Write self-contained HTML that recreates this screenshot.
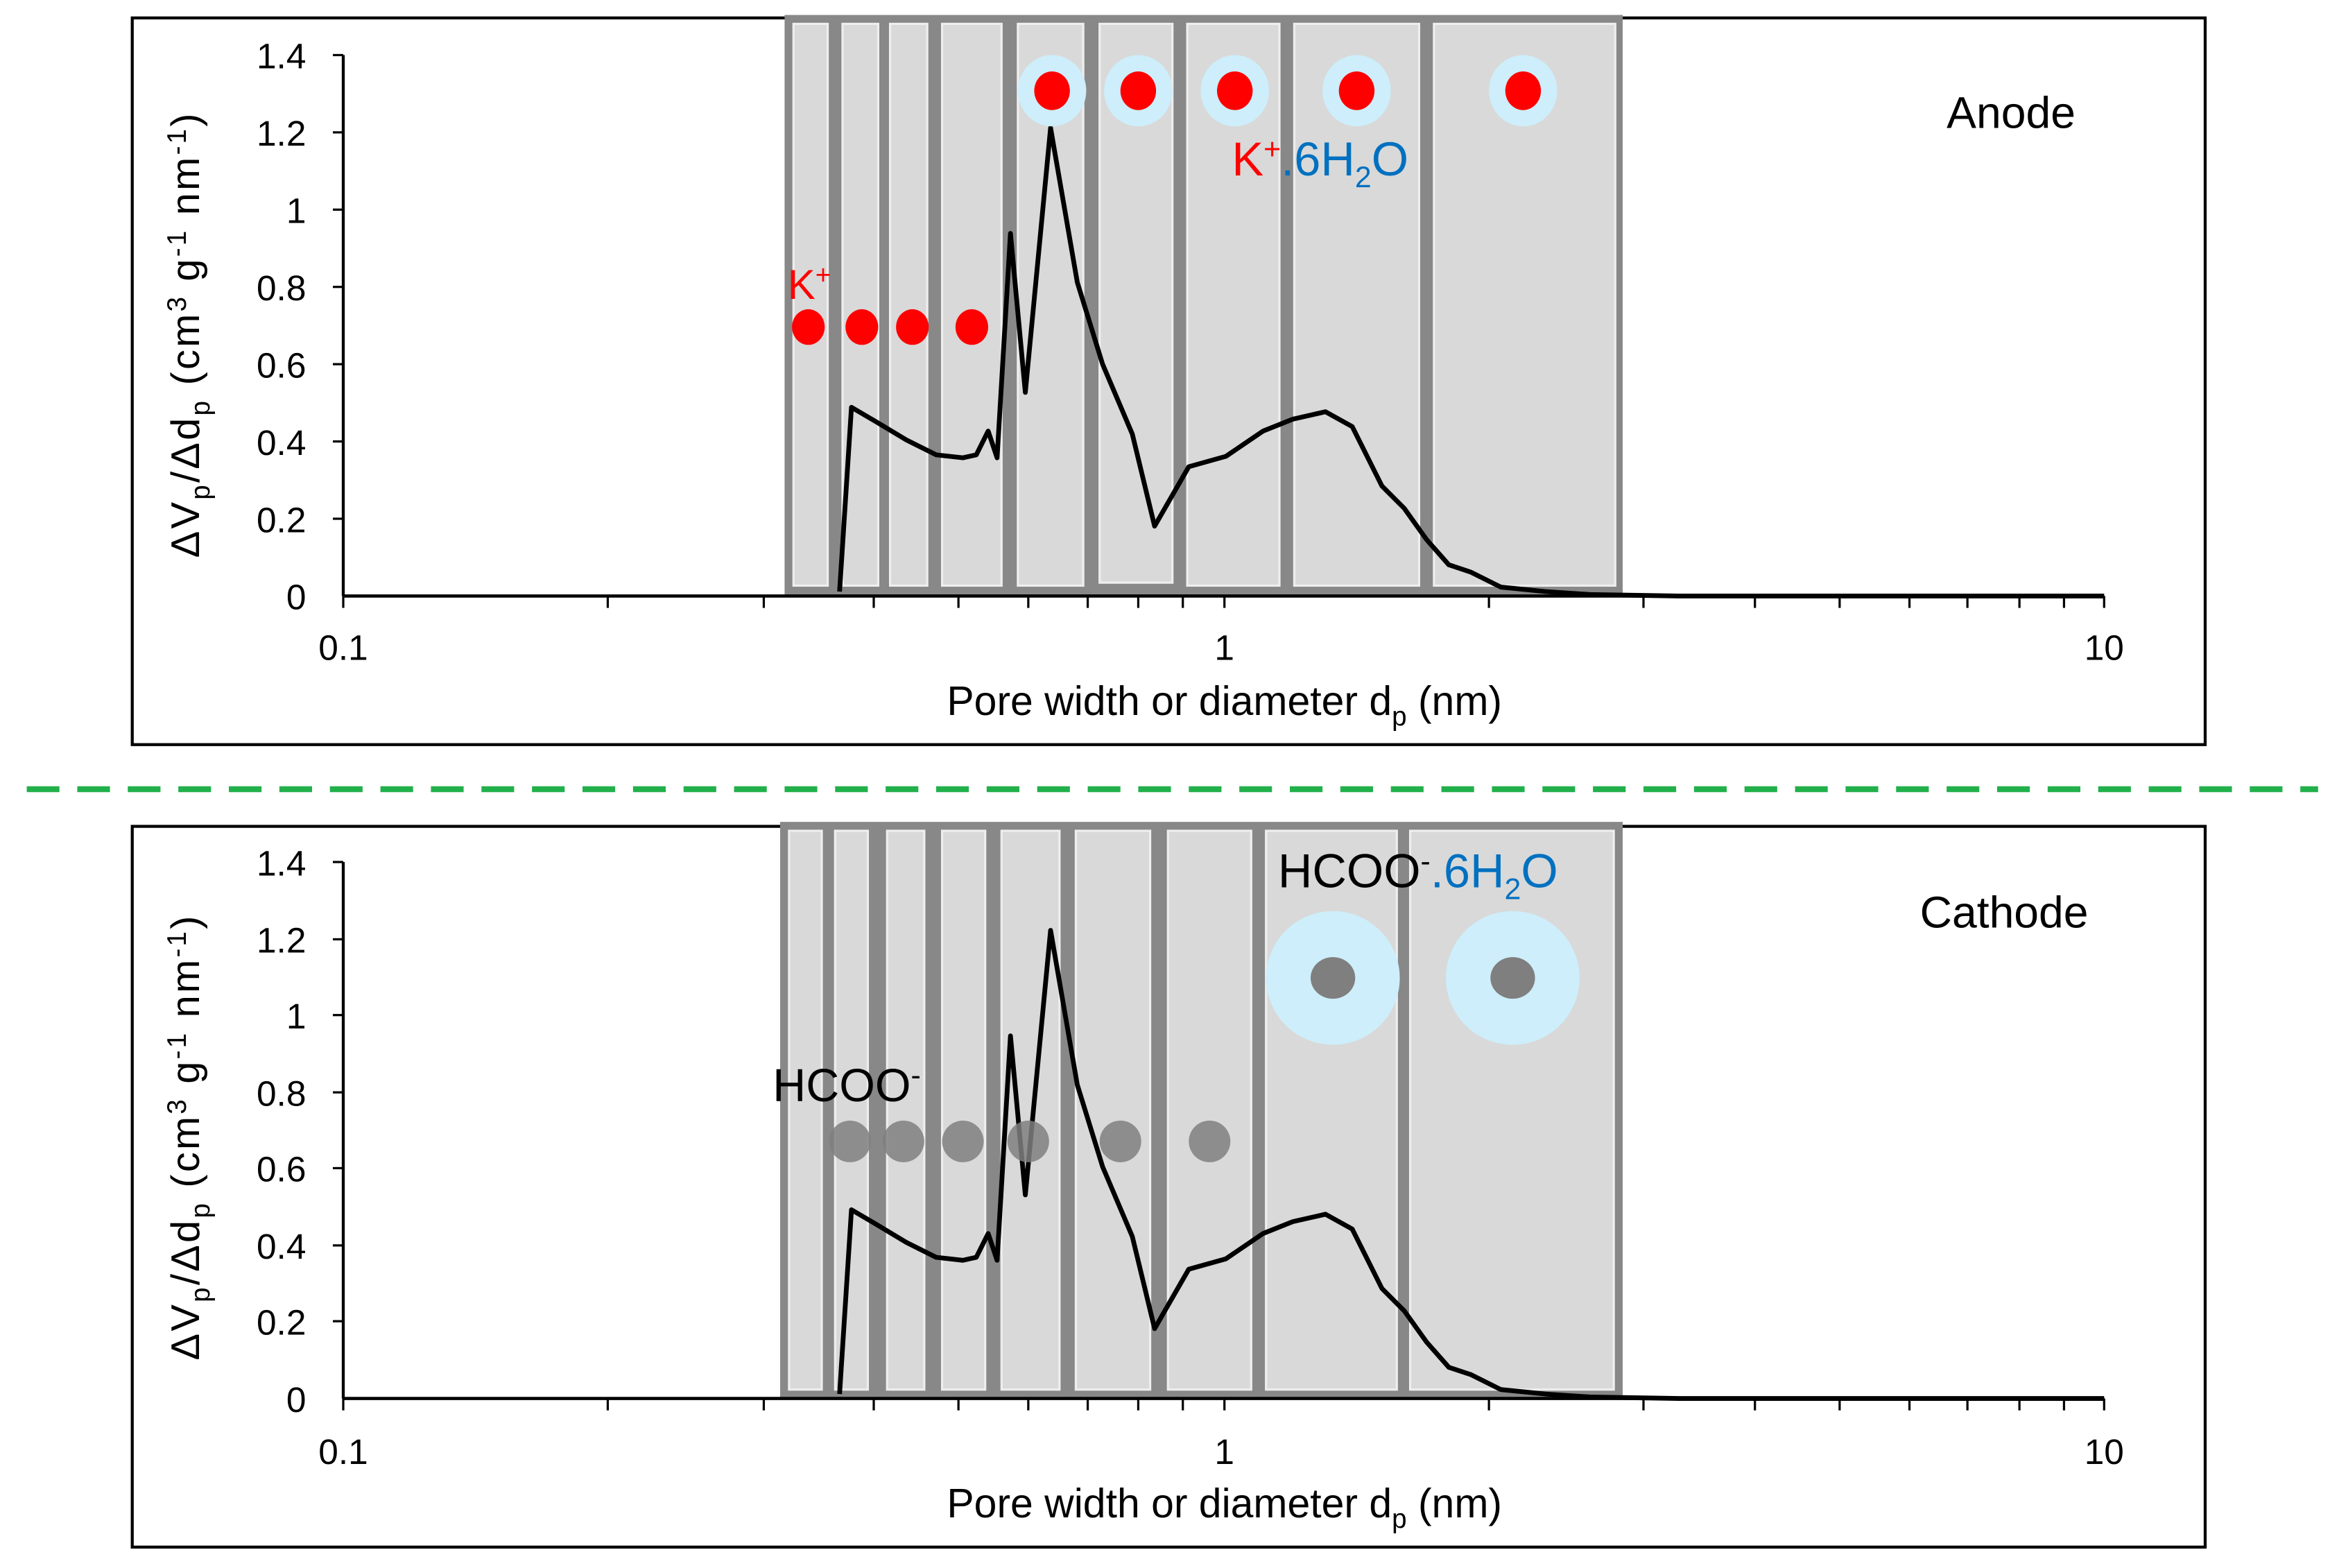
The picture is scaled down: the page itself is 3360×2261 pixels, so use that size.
<!DOCTYPE html>
<html><head><meta charset="utf-8"><style>html,body{margin:0;padding:0;background:#fff}svg{display:block}text{font-family:"Liberation Sans",Arial,sans-serif}</style></head>
<body>
<svg width="3360" height="2261" viewBox="0 0 1568 1055" xmlns="http://www.w3.org/2000/svg">
<defs>
<g id="xaxis">
<line x1="231" y1="0" x2="1416" y2="0" stroke="#000" stroke-width="2.2"/>
<g stroke="#000" stroke-width="1.5">
<line x1="231" y1="0" x2="231" y2="8"/><line x1="409" y1="0" x2="409" y2="8"/><line x1="514" y1="0" x2="514" y2="8"/><line x1="588" y1="0" x2="588" y2="8"/><line x1="645" y1="0" x2="645" y2="8"/><line x1="692" y1="0" x2="692" y2="8"/><line x1="732" y1="0" x2="732" y2="8"/><line x1="766" y1="0" x2="766" y2="8"/><line x1="796" y1="0" x2="796" y2="8"/><line x1="824" y1="0" x2="824" y2="8"/>
<line x1="1002" y1="0" x2="1002" y2="8"/><line x1="1106" y1="0" x2="1106" y2="8"/><line x1="1181" y1="0" x2="1181" y2="8"/><line x1="1238" y1="0" x2="1238" y2="8"/><line x1="1285" y1="0" x2="1285" y2="8"/><line x1="1324" y1="0" x2="1324" y2="8"/><line x1="1359" y1="0" x2="1359" y2="8"/><line x1="1389" y1="0" x2="1389" y2="8"/><line x1="1416" y1="0" x2="1416" y2="8"/>
</g>
</g>
<polyline id="curve" fill="none" stroke="#000" stroke-width="3.2" stroke-linejoin="round" points="565,398 573,274 590,284 610,296 630,306 648,308 657,306 665,290 671,308 680,157 690,264 707,86 725,190 742,245 762,292 777,354 800,314 825,307 850,290 870,282 892,277 910,287 930,327 945,342 960,363 975,380 990,385 1010,395 1040,398 1070,400 1130,401 1416,401"/>
</defs>

<!-- TOP PANEL -->
<rect x="89" y="12" width="1395" height="489" fill="#fff" stroke="#000" stroke-width="2"/>
<rect x="528" y="10" width="564" height="391" fill="#888"/>
<g fill="#d9d9d9" stroke="#eee" stroke-width="1.5">
<rect x="534" y="16" width="23" height="378"/><rect x="567" y="16" width="24" height="378"/><rect x="599" y="16" width="25" height="378"/><rect x="634" y="16" width="40" height="378"/><rect x="685" y="16" width="44" height="378"/><rect x="740" y="16" width="49" height="376"/><rect x="799" y="16" width="62" height="378"/><rect x="871" y="16" width="84" height="378"/><rect x="965" y="16" width="122" height="378"/>
</g>
<use href="#curve"/>
<g transform="translate(0,401)"><use href="#xaxis"/></g>
<line x1="231" y1="37" x2="231" y2="401" stroke="#000" stroke-width="2"/>
<g stroke="#000" stroke-width="1.5">
<line x1="224" y1="37" x2="231" y2="37"/><line x1="224" y1="89" x2="231" y2="89"/><line x1="224" y1="141" x2="231" y2="141"/><line x1="224" y1="193" x2="231" y2="193"/><line x1="224" y1="245" x2="231" y2="245"/><line x1="224" y1="297" x2="231" y2="297"/><line x1="224" y1="349" x2="231" y2="349"/>
</g>
<g font-size="24" text-anchor="end" fill="#000">
<text x="206" y="46">1.4</text><text x="206" y="98">1.2</text><text x="206" y="150">1</text><text x="206" y="202">0.8</text><text x="206" y="254">0.6</text><text x="206" y="306">0.4</text><text x="206" y="358">0.2</text><text x="206" y="410">0</text>
</g>
<g font-size="24" text-anchor="middle"><text x="231" y="444">0.1</text><text x="824" y="444">1</text><text x="1416" y="444">10</text></g>
<text x="824" y="481" font-size="27.5" text-anchor="middle">Pore width or diameter d<tspan font-size="18" dy="7">p</tspan><tspan dy="-7"> (nm)</tspan></text>
<text transform="translate(134,225) rotate(-90)" font-size="27" text-anchor="middle" letter-spacing="1.5">ΔV<tspan font-size="18" dy="7">p</tspan><tspan dy="-7">/Δd</tspan><tspan font-size="18" dy="7">p</tspan><tspan dy="-7"> (cm</tspan><tspan font-size="18" dy="-9">3</tspan><tspan dy="9"> g</tspan><tspan font-size="18" dy="-9">-1</tspan><tspan dy="9"> nm</tspan><tspan font-size="18" dy="-9">-1</tspan><tspan dy="9">)</tspan></text>
<text x="1310" y="86" font-size="30">Anode</text>
<g fill="#cdeefa"><ellipse cx="708" cy="61" rx="23" ry="24"/><ellipse cx="766" cy="61" rx="23" ry="24"/><ellipse cx="831" cy="61" rx="23" ry="24"/><ellipse cx="913" cy="61" rx="23" ry="24"/><ellipse cx="1025" cy="61" rx="23" ry="24"/></g>
<g fill="#f00"><ellipse cx="708" cy="61" rx="12" ry="13"/><ellipse cx="766" cy="61" rx="12" ry="13"/><ellipse cx="831" cy="61" rx="12" ry="13"/><ellipse cx="913" cy="61" rx="12" ry="13"/><ellipse cx="1025" cy="61" rx="12" ry="13"/>
<ellipse cx="544" cy="220" rx="11" ry="12"/><ellipse cx="580" cy="220" rx="11" ry="12"/><ellipse cx="614" cy="220" rx="11" ry="12"/><ellipse cx="654" cy="220" rx="11" ry="12"/></g>
<text x="530" y="201" font-size="28" fill="#f00">K<tspan font-size="18" dy="-10">+</tspan></text>
<text x="829" y="118" font-size="32" fill="#f00">K<tspan font-size="20" dy="-11">+</tspan><tspan fill="#0070c0" font-size="32" dy="11">.6H</tspan><tspan fill="#0070c0" font-size="20" dy="8">2</tspan><tspan fill="#0070c0" font-size="32" dy="-8">O</tspan></text>

<!-- dashed separator -->
<line x1="18" y1="531" x2="1560" y2="531" stroke="#22b04b" stroke-width="4" stroke-dasharray="22,12"/>

<!-- BOTTOM PANEL -->
<rect x="89" y="556" width="1395" height="485" fill="#fff" stroke="#000" stroke-width="2"/>
<rect x="525" y="553" width="567" height="388" fill="#888"/>
<g fill="#d9d9d9" stroke="#eee" stroke-width="1.5">
<rect x="531" y="559" width="22" height="376"/><rect x="562" y="559" width="22" height="376"/><rect x="597" y="559" width="25" height="376"/><rect x="634" y="559" width="29" height="376"/><rect x="674" y="559" width="39" height="376"/><rect x="724" y="559" width="50" height="376"/><rect x="786" y="559" width="56" height="376"/><rect x="852" y="559" width="88" height="376"/><rect x="949" y="559" width="137" height="376"/>
</g>
<g transform="translate(0,540)"><use href="#curve"/></g>
<g fill="#cdeefa"><ellipse cx="897" cy="658" rx="45" ry="45"/><ellipse cx="1018" cy="658" rx="45" ry="45"/></g>
<g fill="#7f7f7f"><ellipse cx="897" cy="658" rx="15" ry="14"/><ellipse cx="1018" cy="658" rx="15" ry="14"/></g>
<g fill="#7f7f7f" fill-opacity="0.85"><ellipse cx="572" cy="768" rx="14" ry="14"/><ellipse cx="608" cy="768" rx="14" ry="14"/><ellipse cx="648" cy="768" rx="14" ry="14"/><ellipse cx="692" cy="768" rx="14" ry="14"/><ellipse cx="754" cy="768" rx="14" ry="14"/><ellipse cx="814" cy="768" rx="14" ry="14"/></g>
<g transform="translate(0,941)"><use href="#xaxis"/></g>
<line x1="231" y1="580" x2="231" y2="941" stroke="#000" stroke-width="2"/>
<g stroke="#000" stroke-width="1.5">
<line x1="224" y1="580" x2="231" y2="580"/><line x1="224" y1="632" x2="231" y2="632"/><line x1="224" y1="683" x2="231" y2="683"/><line x1="224" y1="735" x2="231" y2="735"/><line x1="224" y1="786" x2="231" y2="786"/><line x1="224" y1="838" x2="231" y2="838"/><line x1="224" y1="889" x2="231" y2="889"/>
</g>
<g font-size="24" text-anchor="end" fill="#000">
<text x="206" y="589">1.4</text><text x="206" y="641">1.2</text><text x="206" y="692">1</text><text x="206" y="744">0.8</text><text x="206" y="795">0.6</text><text x="206" y="847">0.4</text><text x="206" y="898">0.2</text><text x="206" y="950">0</text>
</g>
<g font-size="24" text-anchor="middle"><text x="231" y="985">0.1</text><text x="824" y="985">1</text><text x="1416" y="985">10</text></g>
<text x="824" y="1021" font-size="27.5" text-anchor="middle">Pore width or diameter d<tspan font-size="18" dy="7">p</tspan><tspan dy="-7"> (nm)</tspan></text>
<text transform="translate(134,765) rotate(-90)" font-size="27" text-anchor="middle" letter-spacing="1.5">ΔV<tspan font-size="18" dy="7">p</tspan><tspan dy="-7">/Δd</tspan><tspan font-size="18" dy="7">p</tspan><tspan dy="-7"> (cm</tspan><tspan font-size="18" dy="-9">3</tspan><tspan dy="9"> g</tspan><tspan font-size="18" dy="-9">-1</tspan><tspan dy="9"> nm</tspan><tspan font-size="18" dy="-9">-1</tspan><tspan dy="9">)</tspan></text>
<text x="1292" y="624" font-size="30">Cathode</text>
<text x="520" y="741" font-size="31">HCOO<tspan font-size="20" dy="-11">-</tspan></text>
<text x="860" y="597" font-size="32">HCOO<tspan font-size="20" dy="-11">-</tspan><tspan fill="#0070c0" font-size="32" dy="11">.6H</tspan><tspan fill="#0070c0" font-size="20" dy="8">2</tspan><tspan fill="#0070c0" font-size="32" dy="-8">O</tspan></text>
</svg>
</body></html>
